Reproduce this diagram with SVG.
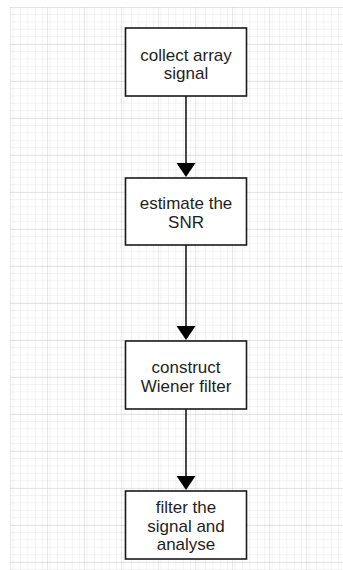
<svg xmlns="http://www.w3.org/2000/svg" width="343" height="570" viewBox="0 0 343 570">
  <style>
    .node rect { fill: #ffffff; stroke: #1a1a1a; stroke-width: 1.6; }
    .node text { font-family: "Liberation Sans", Arial, sans-serif; font-size: 17px; fill: #1e1e1e; text-anchor: middle; }
    .edge { stroke: #1a1a1a; stroke-width: 1.6; fill: none; }
  </style>
  <defs>
    <pattern id="minor" x="10" y="7" width="7.4" height="7.4" patternUnits="userSpaceOnUse">
      <path d="M 7.4 0 L 0 0 0 7.4" fill="none" stroke="#e0e0e0" stroke-width="0.8"/>
    </pattern>
    <pattern id="major" x="10" y="7" width="37" height="37" patternUnits="userSpaceOnUse">
      <rect width="37" height="37" fill="url(#minor)"/>
      <path d="M 37 0 L 0 0 0 37" fill="none" stroke="#cccccc" stroke-width="0.9"/>
    </pattern>
  </defs>

  <!-- background and drawing grid -->
  <rect width="343" height="570" fill="#ffffff"/>
  <rect x="10" y="7" width="333" height="563" fill="url(#major)"/>

  <!-- connectors -->
  <g id="connectors">
    <line class="edge" x1="186" y1="96" x2="186" y2="165"/>
    <polygon points="176.5,163 195.5,163 186,177" fill="#000"/>
    <line class="edge" x1="186" y1="245" x2="186" y2="328"/>
    <polygon points="176.5,326 195.5,326 186,340" fill="#000"/>
    <line class="edge" x1="186" y1="409" x2="186" y2="478"/>
    <polygon points="176.5,476 195.5,476 186,490" fill="#000"/>
  </g>

  <g id="collect" class="node">
    <rect x="125.5" y="28" width="121" height="68"/>
    <text x="186" y="61">collect array</text>
    <text x="186" y="79">signal</text>
  </g>

  <g id="estimate" class="node">
    <rect x="125.5" y="178" width="121" height="67"/>
    <text x="186" y="209">estimate the</text>
    <text x="186" y="228">SNR</text>
  </g>

  <g id="construct" class="node">
    <rect x="125.5" y="341" width="121" height="68"/>
    <text x="186" y="373">construct</text>
    <text x="186" y="392">Wiener filter</text>
  </g>

  <g id="filter" class="node">
    <rect x="125.5" y="491" width="121" height="68"/>
    <text x="186" y="513">filter the</text>
    <text x="186" y="532">signal and</text>
    <text x="186" y="550">analyse</text>
  </g>
</svg>
